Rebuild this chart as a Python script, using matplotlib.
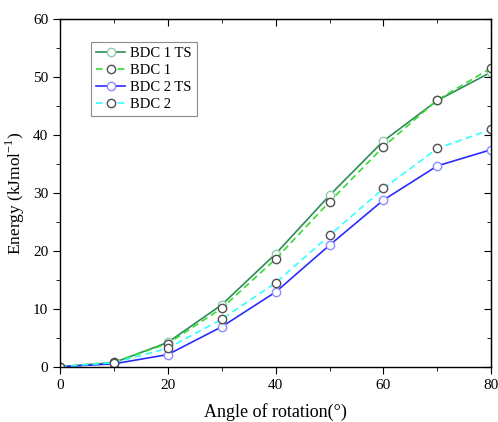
import matplotlib

matplotlib.use("Agg")
import matplotlib.pyplot as plt
from matplotlib.ticker import MultipleLocator

plt.rcParams["font.family"] = ["Liberation Serif", "DejaVu Serif"]
plt.rcParams["mathtext.fontset"] = "custom"
plt.rcParams["mathtext.rm"] = "Liberation Serif"

# angle of rotation (deg) and energies (kJ/mol)
angle = [0, 10, 20, 30, 40, 50, 60, 70, 80]
bdc1_ts = [0.0, 0.7, 4.2, 10.7, 19.5, 29.6, 39.0, 46.0, 50.9]
bdc1 = [0.0, 0.8, 4.0, 10.1, 18.6, 28.5, 38.0, 46.1, 51.6]
bdc2_ts = [0.0, 0.5, 2.1, 6.9, 12.9, 21.0, 28.8, 34.7, 37.5]
bdc2 = [0.0, 0.7, 3.2, 8.2, 14.5, 22.7, 30.8, 37.7, 41.0]

fig = plt.figure(figsize=(4.98, 4.22), dpi=100)
ax = fig.add_axes([0.1205, 0.131, 0.866, 0.823])

mk = dict(marker="o", markersize=6, markerfacecolor="white", markeredgewidth=1.0)
ax.plot(angle, bdc1_ts, "-", color="#2e8b57", lw=1.2, markeredgecolor="#8fcfa8", label="BDC 1 TS", **mk)
ax.plot(angle, bdc1, "--", color="#33dd33", lw=1.2, dashes=(4, 2.5), markeredgecolor="#505050",
        label="BDC 1", **mk)
ax.plot(angle, bdc2_ts, "-", color="#2b2bff", lw=1.2, markeredgecolor="#8c8cff", label="BDC 2 TS", **mk)
ax.plot(angle, bdc2, "--", color="#33ffff", lw=1.2, dashes=(4, 2.5), markeredgecolor="#505050",
        label="BDC 2", **mk)

ax.set_xlim(0, 80)
ax.set_ylim(0, 60)
ax.xaxis.set_major_locator(MultipleLocator(20))
ax.xaxis.set_minor_locator(MultipleLocator(10))
ax.yaxis.set_major_locator(MultipleLocator(10))
ax.yaxis.set_minor_locator(MultipleLocator(5))
ax.tick_params(which="both", direction="out", labelsize=11, top=False, right=False)
ax.tick_params(which="major", length=5)
ax.tick_params(which="minor", length=3)
for sp in ax.spines.values():
    sp.set_linewidth(1.0)

# inward ticks on top and right
sec = ax.secondary_xaxis("top")
sec.xaxis.set_major_locator(MultipleLocator(20))
sec.xaxis.set_minor_locator(MultipleLocator(10))
sec.tick_params(which="both", direction="in", labeltop=False)
sec.tick_params(which="major", length=5)
sec.tick_params(which="minor", length=3)
secy = ax.secondary_yaxis("right")
secy.yaxis.set_major_locator(MultipleLocator(10))
secy.yaxis.set_minor_locator(MultipleLocator(5))
secy.tick_params(which="both", direction="in", labelright=False)
secy.tick_params(which="major", length=5)
secy.tick_params(which="minor", length=3)

ax.set_xlabel("Angle of rotation(°)", fontsize=13, labelpad=8)
ax.set_ylabel("Energy (kJmol$^{\\rm{-1}}$)", fontsize=12.5)

leg = ax.legend(loc="upper left", bbox_to_anchor=(0.072, 0.935), fontsize=10.5, frameon=True,
                fancybox=False, edgecolor="#707070", handlelength=2.0, handletextpad=0.35,
                borderpad=0.35, labelspacing=0.25, borderaxespad=0.0)
leg.get_frame().set_linewidth(0.8)

fig.savefig("out.png", dpi=100)
